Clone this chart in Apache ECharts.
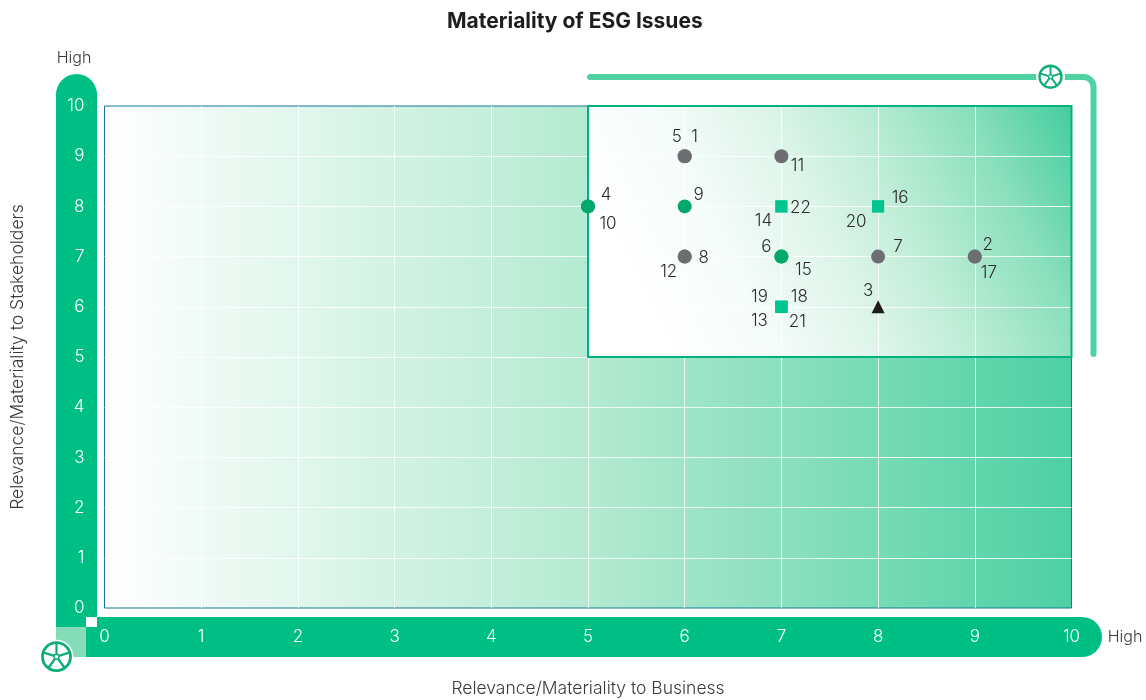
<!DOCTYPE html>
<html>
<head>
<meta charset="utf-8">
<style>html,body{margin:0;padding:0;background:#fff}#chart{width:1146px;height:700px}</style>
<script src="https://cdn.jsdelivr.net/npm/echarts@6/dist/echarts.min.js"></script>
</head>
<body>
<div id="chart"></div>
<script>
// ---- data ----
const chartTitle = 'Materiality of ESG Issues';
const xAxisTitle = 'Relevance/Materiality to Business';
const yAxisTitle = 'Relevance/Materiality to Stakeholders';
const highLabel = 'High';
const issueIds    = [1, 2, 3, 4, 5, 6, 7, 8, 9, 10, 11, 12, 13, 14, 15, 16, 17, 18, 19, 20, 21, 22];
const businessVal = [6, 9, 8, 5, 6, 7, 8, 6, 6, 5, 7, 6, 7, 7, 7, 8, 9, 7, 7, 8, 7, 7];
const stakeVal    = [9, 7, 6, 8, 9, 7, 7, 7, 8, 8, 9, 7, 6, 8, 7, 8, 7, 6, 6, 8, 6, 8];
const issueGroup  = ['g','g','b','e','g','e','g','g','e','e','g','g','s','s','e','s','g','s','s','s','s','s'];
const highlightFrom = [5, 5];
const highlightTo = [10, 10];

// ---- label placement (px from the mark), styles ----
const labelOffsets = {
  1:[10,-19], 2:[13,-12], 3:[-10,-16], 4:[18,-12], 5:[-8,-19], 6:[-15,-10], 7:[20,-10], 8:[19,1],
  9:[14,-12], 10:[20,17], 11:[16,10], 12:[-16,15], 13:[-22,14], 14:[-18,14], 15:[22,13], 16:[22,-9],
  17:[14,16], 18:[18,-10], 19:[-22,-10], 20:[-22,15], 21:[16,15], 22:[19,1]
};
const groupStyles = {
  g:{symbol:'circle',size:14,color:'#6d6e71'},
  e:{symbol:'circle',size:14,color:'#00a86b'},
  s:{symbol:'rect',size:12,color:'#00c58f'},
  b:{symbol:'triangle',size:13,color:'#1d1d1b'}
};
const FONT = 'Inter, "Noto Sans", sans-serif';
const BAR = '#00bf85', BAR_LIGHT = '#85dcb8', BRACKET = '#4fd1a2', WHEEL = '#0dae74';

function wheel(cx, cy, r, lw, halo) {
  const kids = [
    {type:'circle', shape:{cx,cy,r:halo}, style:{fill:'#fff'}, z:6},
    {type:'circle', shape:{cx,cy,r:r}, style:{fill:'none',stroke:WHEEL,lineWidth:lw}, z:6},
    {type:'circle', shape:{cx,cy,r:r*0.18}, style:{fill:'#fff',stroke:WHEEL,lineWidth:lw*0.5}, z:6}
  ];
  for (let i = 0; i < 5; i++) {
    const a = -Math.PI/2 + i*2*Math.PI/5;
    kids.push({type:'line', shape:{x1:cx+Math.cos(a)*r*0.18,y1:cy+Math.sin(a)*r*0.18,x2:cx+Math.cos(a)*r,y2:cy+Math.sin(a)*r},
      style:{stroke:WHEEL,lineWidth:lw*0.8}, z:6});
  }
  return kids;
}

const seriesList = Object.keys(groupStyles).map(function (g, idx) {
  const st = groupStyles[g];
  const data = [];
  issueIds.forEach(function (id, i) {
    if (issueGroup[i] !== g) return;
    data.push({value:[businessVal[i], stakeVal[i]],
      label:{show:true, position:'inside', offset:labelOffsets[id], formatter:String(id),
        color:'#2b2b2b', fontSize:17, fontFamily:FONT, fontWeight:300}});
  });
  const s = {type:'scatter', name:g, symbol:st.symbol, symbolSize:st.size, itemStyle:{color:st.color,opacity:1},
    data:data, z:5, silent:true};
  if (idx === 0) {
    // fill sits under the white grid lines
    s.markArea = {silent:true, z:2,
      itemStyle:{color:{type:'linear',x:0.128,y:0.9,x2:1.01,y2:0.05,colorStops:[
        {offset:0,color:'#ffffff'},{offset:0.22,color:'#f5fcf9'},{offset:0.43,color:'#dcf4e9'},
        {offset:0.6,color:'#bbecd5'},{offset:0.8,color:'#8adfbc'},{offset:1,color:'#45cd9f'}]},
        borderWidth:0,opacity:1},
      label:{show:false},
      data:[[{coord:highlightFrom},{coord:highlightTo}]]};
  }
  if (idx === 1) {
    // border sits above the grid lines
    s.markArea = {silent:true, z:4,
      itemStyle:{color:'rgba(0,0,0,0)',borderColor:'#00b27d',borderWidth:2,opacity:1},
      label:{show:false},
      data:[[{coord:highlightFrom},{coord:highlightTo}]]};
  }
  return s;
});

const axisCommon = {type:'value', min:0, max:10, interval:1, z:3,
  axisLine:{show:false}, axisTick:{show:false},
  splitLine:{show:true, showMinLine:false, showMaxLine:false, lineStyle:{color:'rgba(255,255,255,0.8)', width:1}},
  nameLocation:'middle',
  nameTextStyle:{color:'#3a3a3a', fontSize:17.5, fontFamily:FONT, fontWeight:300}};

const option = {
  animation:false,
  backgroundColor:'#fff',
  title:{text:chartTitle, left:442, top:6,
    textStyle:{fontFamily:FONT, fontSize:21, fontWeight:700, color:'#1d1d1b'}},
  grid:{show:true, left:104.5, top:106, width:967, height:502, z:1, outerBoundsMode:'none', borderColor:'#16799b', borderWidth:1,
    backgroundColor:{type:'linear',x:0,y:0,x2:1,y2:0,colorStops:[
      {offset:0,color:'#ffffff'},{offset:0.5,color:'#b4ead1'},{offset:1,color:'#4dd0a3'}]}},
  xAxis:Object.assign({}, axisCommon, {name:xAxisTitle, nameGap:72,
    axisLabel:{color:'#fff', fontSize:17, fontFamily:FONT, fontWeight:300, margin:20, showMinLabel:true, showMaxLabel:true}}),
  yAxis:Object.assign({}, axisCommon, {name:yAxisTitle, nameGap:78,
    axisLabel:{color:'#fff', fontSize:17, fontFamily:FONT, fontWeight:300, margin:20, align:'right', showMinLabel:true, showMaxLabel:true}}),
  graphic:{elements:[
    {type:'group', silent:true, children:[
      {type:'rect', shape:{x:56,y:74,width:41,height:553,r:[20.5,20.5,0,0]}, style:{fill:BAR}},
      {type:'rect', shape:{x:86,y:617,width:1016,height:40,r:[0,20,20,0]}, style:{fill:BAR}},
      {type:'rect', shape:{x:56,y:627,width:30,height:30}, style:{fill:BAR_LIGHT}},
      {type:'rect', shape:{x:86,y:617,width:11,height:10}, style:{fill:'#fff'}},
      {type:'line', shape:{x1:590,y1:77,x2:1083.5,y2:77}, style:{stroke:BRACKET,lineWidth:6,lineCap:'round'}},
      {type:'arc', shape:{cx:1083.5,cy:87,r:10,startAngle:-Math.PI/2,endAngle:0,clockwise:true}, style:{fill:'none',stroke:BRACKET,lineWidth:6}},
      {type:'line', shape:{x1:1093.5,y1:87,x2:1093.5,y2:354}, style:{stroke:BRACKET,lineWidth:6,lineCap:'round'}},
      {type:'text', x:74, y:58, style:{text:highLabel,fill:'#3a3a3a',font:'300 16px '+FONT,align:'center',verticalAlign:'middle'}},
      {type:'text', x:1125, y:637, style:{text:highLabel,fill:'#3a3a3a',font:'300 16px '+FONT,align:'center',verticalAlign:'middle'}}
    ].concat(wheel(1050.5,76.7,11,2.4,14.5), wheel(56.5,656.7,14,2.8,17))}
  ]},
  series:seriesList
};
const chart = echarts.init(document.getElementById('chart'), null, {renderer:'canvas'});
chart.setOption(option);
</script>
</body>
</html>
